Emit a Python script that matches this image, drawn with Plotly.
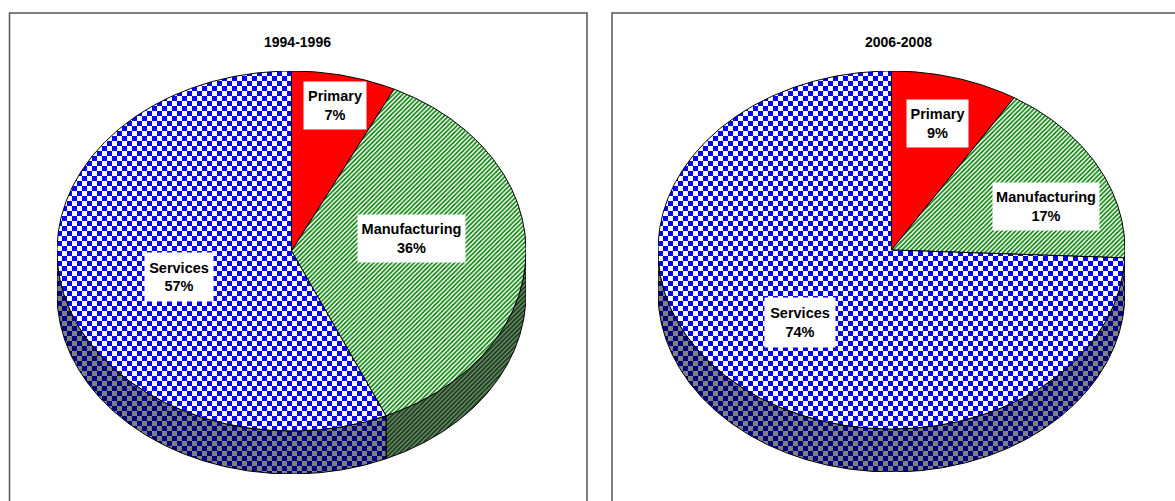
import numpy as np
import plotly.graph_objects as go

W, H = 1175, 501

# ---- data ----
categories = ["Primary", "Manufacturing", "Services"]
shares_1994 = [7.2, 36.2, 56.6]
shares_2006 = [8.8, 16.9, 74.3]
titles = ["1994-1996", "2006-2008"]

# ---- styles ----
TOP = {
    "Primary": dict(fillcolor="#ff0000"),
    "Manufacturing": dict(fillcolor="rgba(0,0,0,0)",
                          fillpattern=dict(shape="/", fgcolor="#007000", bgcolor="#ffffff", size=4.5, solidity=0.6)),
    "Services": dict(fillcolor="rgba(0,0,0,0)",
                     fillpattern=dict(shape="+", fgcolor="#0000ff", bgcolor="#ffffff", size=10, solidity=0.5)),
}
SIDE = {
    "Primary": dict(fillcolor="#800000"),
    "Manufacturing": dict(fillcolor="rgba(0,0,0,0)",
                          fillpattern=dict(shape="/", fgcolor="#003000", bgcolor="#808080", size=4.5, solidity=0.6)),
    "Services": dict(fillcolor="rgba(0,0,0,0)",
                     fillpattern=dict(shape="+", fgcolor="#000080", bgcolor="#808080", size=10, solidity=0.5)),
}
panels = [
    dict(shares=shares_1994, title=titles[0], cx=291.5, frame=(9.5, 587), rx=234.5, top=71, ry=180, depth=43, title_x=297.5,
         boxes={"Primary": (304, 82, 62, 47), "Manufacturing": (358, 215, 107, 47), "Services": (145, 253, 68, 48)}),
    dict(shares=shares_2006, title=titles[1], cx=891.5, frame=(612, 1190), rx=233.5, top=71, ry=179, depth=43, title_x=898,
         boxes={"Primary": (907, 100, 61, 47), "Manufacturing": (993, 183, 106, 47), "Services": (765, 298, 70, 49)}),
]


def arc(a0, a1):
    """Points on the unit circle, angle clockwise from 12 o'clock, degrees."""
    n = max(2, int(abs(a1 - a0)) + 1)
    t = np.radians(np.linspace(a0, a1, n * 2))
    return np.sin(t), np.cos(t)


fig = go.Figure()
shapes, annotations = [], []
font = "Liberation Sans, Arial, sans-serif"

for i, p in enumerate(panels):
    suffix = "" if i == 0 else "2"
    xa, ya = "x" + suffix, "y" + suffix
    depth = p["depth"] / p["ry"]
    bottom = p["top"] + 2 * p["ry"] + p["depth"]
    left, right = p["cx"] - p["rx"], p["cx"] + p["rx"]
    fig.update_layout({
        "xaxis" + suffix: dict(domain=[left / W, right / W], range=[-1, 1], visible=False, fixedrange=True),
        "yaxis" + suffix: dict(domain=[1 - bottom / H, 1 - p["top"] / H], range=[-1 - depth, 1], visible=False,
                               fixedrange=True),
    })
    edges = np.cumsum([0] + p["shares"]) * 3.6
    # the rim: only the part of each slice on the front half (90..270 deg)
    for name, a0, a1 in zip(categories, edges[:-1], edges[1:]):
        f0, f1 = max(a0, 90), min(a1, 270)
        if f1 <= f0:
            continue
        x, y = arc(f0, f1)
        xs = np.concatenate([x, x[::-1], x[:1]])
        ys = np.concatenate([y, y[::-1] - depth, y[:1]])
        fig.add_trace(go.Scatter(x=xs, y=ys, xaxis=xa, yaxis=ya, mode="lines", fill="toself",
                                 line=dict(color="#000000", width=1), cliponaxis=False,
                                 hoverinfo="skip", showlegend=False, **SIDE[name]))
    # the top face
    for name, a0, a1 in zip(categories, edges[:-1], edges[1:]):
        x, y = arc(a0, a1)
        xs = np.concatenate([[0], x, [0]])
        ys = np.concatenate([[0], y, [0]])
        fig.add_trace(go.Scatter(x=xs, y=ys, xaxis=xa, yaxis=ya, mode="lines", fill="toself",
                                 line=dict(color="#000000", width=1), cliponaxis=False,
                                 hoverinfo="skip", showlegend=False, **TOP[name]))
    # frame
    shapes.append(dict(type="rect", xref="paper", yref="paper", x0=p["frame"][0] / W, x1=p["frame"][1] / W,
                       y0=1 - 520 / H, y1=1 - 13 / H, line=dict(color="#555555", width=1.5), layer="below"))
    annotations.append(dict(text="<b>%s</b>" % p["title"], xref="paper", yref="paper", x=p["title_x"] / W,
                            y=1 - 42 / H, xanchor="center", yanchor="middle", showarrow=False,
                            font=dict(family=font, size=14, color="#000000")))
    for name, share in zip(categories, p["shares"]):
        bx, by, bw, bh = p["boxes"][name]
        annotations.append(dict(text="<b>%s<br>%.0f%%</b>" % (name, share), xref="paper", yref="paper",
                                x=(bx + bw / 2) / W, y=1 - (by + bh / 2) / H, xanchor="center", yanchor="middle",
                                width=bw, height=bh, bgcolor="#ffffff", borderpad=0, showarrow=False,
                                font=dict(family=font, size=14.5, color="#000000")))

fig.update_layout(width=W, height=H, margin=dict(l=0, r=0, t=0, b=0), paper_bgcolor="#ffffff",
                  plot_bgcolor="rgba(0,0,0,0)", showlegend=False, shapes=shapes, annotations=annotations)

# plotly has no checkerboard fill and draws its hatch pale, so the tiles are redrawn
post = """
document.body.style.margin = '0';
document.querySelectorAll('pattern').forEach(function (pt) {
  var h = pt.innerHTML.replace(/\\s/g, '');
  var c = null, kind = null;
  if (h.indexOf('rgb(0,0,255)') >= 0) { c = ['#ffffff', '#0000ff']; kind = 'check'; }
  else if (h.indexOf('rgb(0,0,128)') >= 0) { c = ['#808080', '#000080']; kind = 'check'; }
  else if (h.indexOf('rgb(0,112,0)') >= 0) { c = ['#ffffff', '#008000']; kind = 'hatch'; }
  else if (h.indexOf('rgb(0,48,0)') >= 0) { c = ['#808080', '#004000']; kind = 'hatch'; }
  if (!c) return;
  if (kind === 'check') {
    var s = 5, t = 2 * s;
    pt.setAttribute('width', t);
    pt.setAttribute('height', t);
    pt.innerHTML = '<rect width="' + t + '" height="' + t + '" fill="' + c[0] + '"/>' +
      '<rect width="' + s + '" height="' + s + '" fill="' + c[1] + '"/>' +
      '<rect x="' + s + '" y="' + s + '" width="' + s + '" height="' + s + '" fill="' + c[1] + '"/>';
  } else {
    var T = 4.5;
    pt.setAttribute('width', T);
    pt.setAttribute('height', T);
    pt.innerHTML = '<rect width="' + T + '" height="' + T + '" fill="' + c[0] + '"/>' +
      '<path d="M-1,1L1,-1M0,' + T + 'L' + T + ',0M' + (T - 1) + ',' + (T + 1) + 'L' + (T + 1) + ',' + (T - 1) +
      '" stroke="' + c[1] + '" stroke-width="' + (T * 0.5 / 1.414) + '"/>';
  }
});
"""
fig.write_html("out.html", post_script=post, config=dict(displayModeBar=False))
